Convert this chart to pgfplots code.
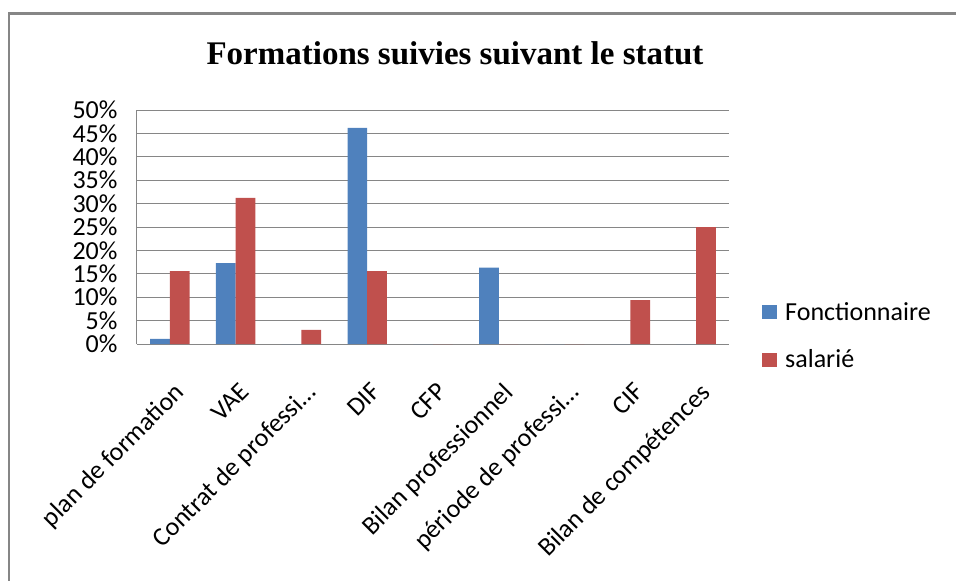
\documentclass[border=0pt]{standalone}
\usepackage{fontspec}
\setmainfont{Carlito}
\newfontfamily\titlefont{Liberation Serif}
\usepackage{pgfplots}
\pgfplotsset{compat=1.18}
\definecolor{fblue}{HTML}{4F81BD}
\definecolor{sred}{HTML}{C0504D}
\definecolor{gridgray}{HTML}{868686}
\begin{document}
\begin{tikzpicture}[x=1pt,y=1pt]
\useasboundingbox (0,0) rectangle (956,-581);
\draw[gridgray, line width=2.5pt] (9,-581) -- (9,-13.5) -- (956,-13.5);
\node[font=\titlefont\bfseries\fontsize{33}{38}\selectfont, anchor=base] at (455,-64) {Formations suivies suivant le statut};
\begin{axis}[
  at={(137pt,-344pt)}, anchor=south west,
  scale only axis, width=592pt, height=234pt,
  xmin=-0.5, xmax=8.5, ymin=0, ymax=50,
  enlarge x limits=false,
  ybar=0pt, bar width=19.7pt,
  xtick={0,...,8},
  xticklabels={plan de formation, VAE, Contrat de professi…, DIF, CFP, Bilan professionnel, période de professi…, CIF, Bilan de compétences},
  ytick={0,5,...,50},
  yticklabel={\pgfmathprintnumber{\tick}\%},
  /pgf/number format/assume math mode=true,
  tick label style={font=\fontsize{26}{30}\selectfont},
  xticklabel style={rotate=45, anchor=north east, xshift=-21pt, yshift=-25pt},
  yticklabel style={xshift=-16pt},
  major tick length=0pt,
  axis x line*=bottom, axis y line*=left,
  axis line style={gridgray, line width=1pt},
  ymajorgrids, major grid style={gridgray, line width=1pt},
  legend style={draw=none, fill=none, at={(1,0.035)}, anchor=west, xshift=30pt,
    font=\fontsize{26}{30}\selectfont, row sep=24pt},
  legend cell align=left,
  legend image code/.code={\fill[#1] (0pt,-7pt) rectangle (15pt,7pt);},
]
\addplot[fill=fblue, draw=none] coordinates {(0,1.1) (1,17.3) (2,0) (3,46.2) (4,0) (5,16.3) (6,0) (7,0) (8,0)};
\addplot[fill=sred, draw=none] coordinates {(0,15.6) (1,31.2) (2,3.0) (3,15.6) (4,0) (5,0) (6,0) (7,9.4) (8,25.0)};
\legend{\hspace{6pt}Fonctionnaire, \hspace{6pt}salarié}
\end{axis}
\end{tikzpicture}
\end{document}
